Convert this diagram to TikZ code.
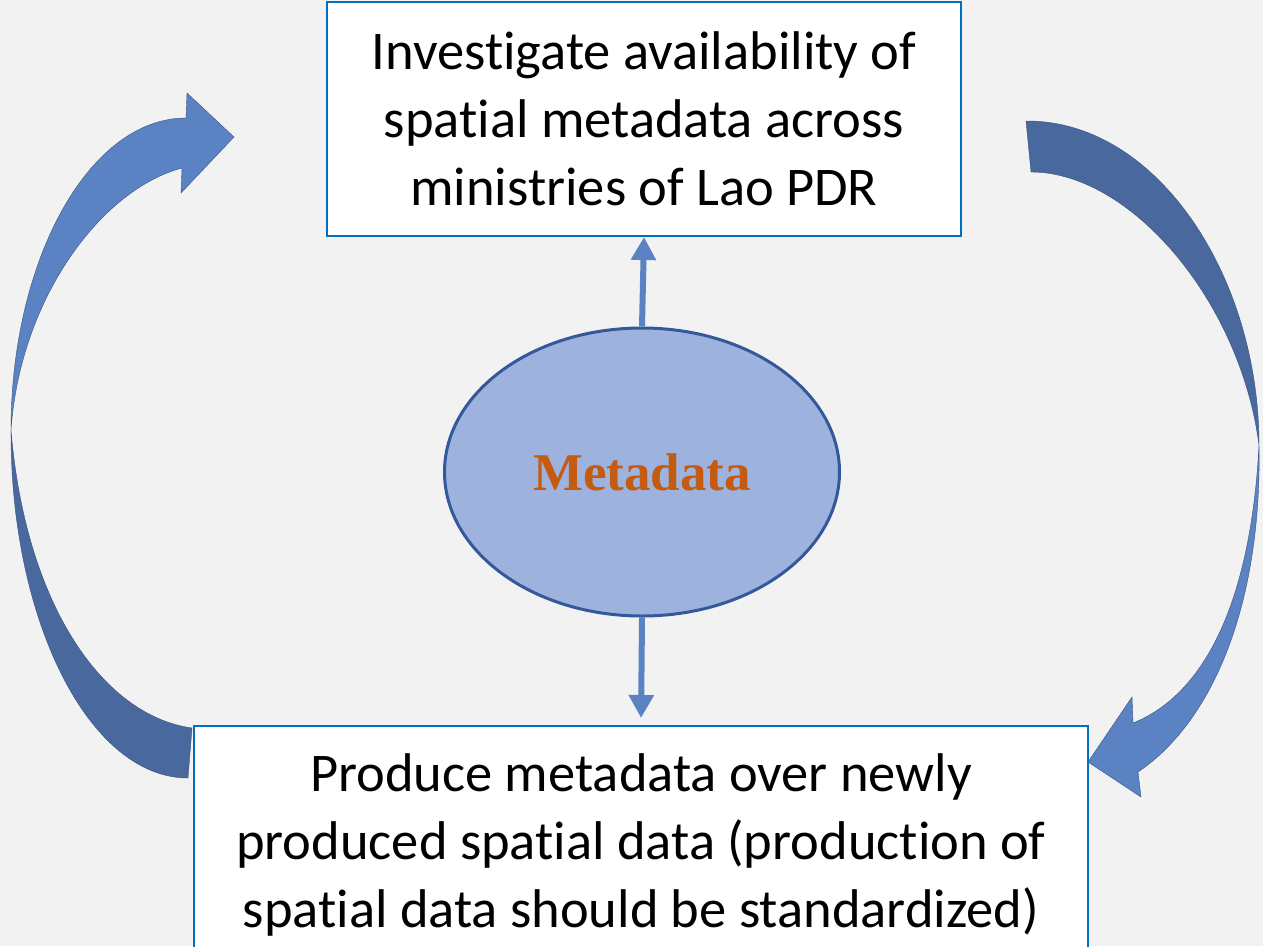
\documentclass[tikz,border=0pt]{standalone}
\usepackage{fontspec}
\setmainfont{Carlito}[Ligatures={NoCommon,NoRare,NoContextual}, Contextuals=NoAlternate]
\newfontfamily\titlefont{Liberation Serif}
\usetikzlibrary{shapes.geometric, arrows.meta}

\definecolor{pagebg}{RGB}{242,242,242}
\definecolor{boxline}{RGB}{0,112,192}
\definecolor{ovalfill}{RGB}{157,179,221}
\definecolor{ovalline}{RGB}{52,89,155}
\definecolor{arrowlight}{RGB}{91,131,195}
\definecolor{arrowdark}{RGB}{73,104,158}
\definecolor{titlecol}{RGB}{197,90,17}

\begin{document}
\begin{tikzpicture}[x=1pt, y=-1pt] % 以像素为单位, y 轴向下
		\tikzset{
			stepbox/.style={draw=boxline, line width=2pt, fill=white, align=center,
				font=\fontsize{54.5}{68}\selectfont},
			ribbon/.style={draw=arrowdark!80!black, line width=0.4pt},
			linkarrow/.style={draw=arrowlight, line width=6pt,
				-{Triangle[width=24pt, length=23pt]}}
		}
		% 背景和裁剪
		\fill[pagebg] (0, 0) rectangle (1263, 946);
		\clip (0, 0) rectangle (1263, 946);
		% 左边的弯箭头
		\filldraw[ribbon, fill=arrowdark]
			(11, 430) .. controls (10, 620) and (89, 778) .. (188, 778)
			-- (192, 728) .. controls (100, 715) and (25, 600) .. (11, 430) -- cycle;
		\filldraw[ribbon, fill=arrowlight]
			(11, 430) .. controls (11, 260) and (89, 118) .. (186, 118)
			-- (187, 93) -- (234, 137) -- (181, 193) -- (182, 168)
			.. controls (100, 190) and (20, 300) .. (11, 430) -- cycle;
		% 右边的弯箭头
		\filldraw[ribbon, fill=arrowdark]
			(1026, 121) .. controls (1156, 120) and (1259, 275) .. (1259, 445)
			.. controls (1240, 300) and (1130, 172) .. (1031, 172) -- cycle;
		\filldraw[ribbon, fill=arrowlight]
			(1259, 445) .. controls (1262, 600) and (1215, 720) .. (1138, 772)
			-- (1141, 797) -- (1088, 762) -- (1132, 697) -- (1133, 723)
			.. controls (1215, 690) and (1252, 580) .. (1259, 445) -- cycle;
		% 方框和椭圆
		\node[stepbox, minimum width=634pt, minimum height=234pt] (survey)
			at (644, 119) {Investigate availability of\\spatial metadata across\\ministries of Lao PDR};
		\node[stepbox, anchor=north, minimum width=894pt, inner ysep=28pt] (produce)
			at (641, 725) {Produce metadata over newly\\produced spatial data (production of\\spatial data should be standardized)};
		\node[ellipse, draw=ovalline, line width=3pt, fill=ovalfill,
			minimum width=395pt, minimum height=288pt] (meta) at (642, 472)
			{\titlefont\bfseries\fontsize{53}{60}\selectfont\color{titlecol}Metadata};
		% 中间的两个箭头
		\draw[linkarrow] (meta.north) -- (survey.south);
		\draw[linkarrow, shorten >=7pt] (meta.south) -- (produce.north);
	\end{tikzpicture}
\end{document}
